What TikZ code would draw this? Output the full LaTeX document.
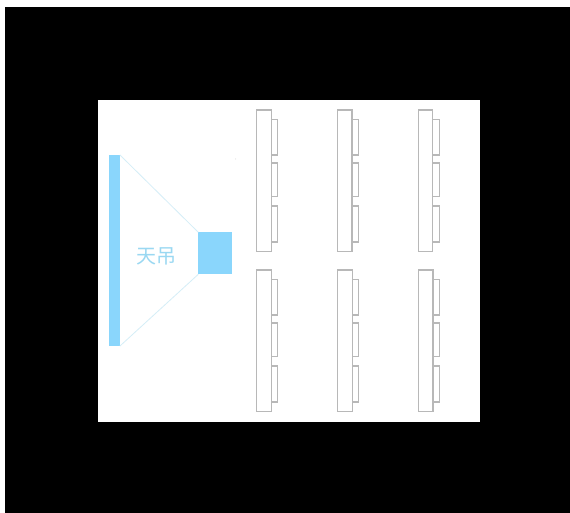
\documentclass[tikz,border=0pt]{standalone}
\usepackage{fontspec}
\newfontfamily\cjk{Noto Sans CJK SC}
\definecolor{sky}{HTML}{8AD6FC}
\definecolor{rayc}{HTML}{D5EEF7}
\definecolor{deskc}{HTML}{B8B8B8}
\definecolor{labc}{HTML}{9AD8F2}
\tikzset{
  desk/.style={draw=deskc,line width=0.8pt,fill=white},
  bluebox/.style={fill=sky,draw=none,inner sep=0pt,outer sep=0pt,anchor=north west},
  ray/.style={draw=rayc,line width=0.6pt},
}
\newcommand{\deskgroup}[3]{%
  \draw[desk] (#1+14.5,#2+9.5) rectangle (#1+21,#2+45);
  \draw[desk] (#1+14.5,#2+53) rectangle (#1+21,#2+86.5);
  \draw[desk] (#1+14.5,#2+96) rectangle (#1+21,#2+132);
  \draw[desk] (#1,#2) rectangle (#1+14.5,#3);
}
\begin{document}
\begin{tikzpicture}[x=0.75pt,y=-0.75pt]
\useasboundingbox (0,0) rectangle (570,513);
\fill[white] (0,0) rectangle (570,513);
\fill[black] (5,7) rectangle (570,513);
\fill[white] (98,100) rectangle (480,422);
\node[bluebox,minimum width=8pt,minimum height=143.25pt] (bar) at (109.3,155) {};
\node[bluebox,minimum width=25pt,minimum height=31.5pt] (proj) at (198.3,232.3) {};
\draw[ray] (bar.north east) -- (proj.north west);
\draw[ray] (bar.south east) -- (proj.south west);
\node[text=labc,inner sep=0pt,font=\cjk\fontsize{15}{15}\selectfont] (lab) at (156,256) {天吊};
\fill[deskc!60] (235.5,159) circle (0.5);
\deskgroup{256.7}{110}{251.5}
\deskgroup{337.5}{110}{251.5}
\deskgroup{418.4}{110}{251.5}
\deskgroup{256.9}{270}{411.7}
\deskgroup{337.6}{270}{411.7}
\deskgroup{418.5}{270}{411.7}
\end{tikzpicture}
\end{document}
